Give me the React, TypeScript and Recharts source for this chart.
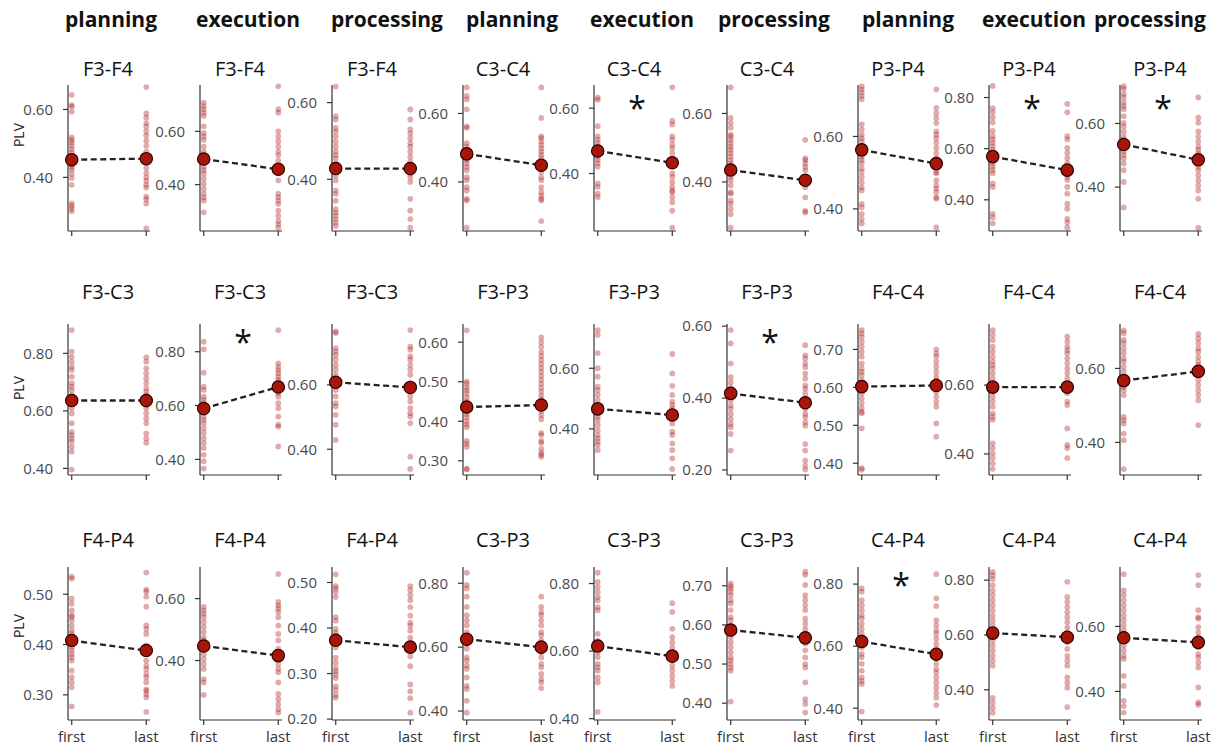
import React from 'react';
import { ScatterChart, Scatter, XAxis, YAxis } from 'recharts';

// ---- data: PLV per subject, first vs last block ----

// row 1
const f3f4PlanFirst = [0.643, 0.613, 0.608, 0.593, 0.518, 0.51, 0.503, 0.493, 0.483, 0.473, 0.463, 0.453, 0.446, 0.438, 0.43, 0.423, 0.41, 0.398, 0.378, 0.323, 0.316, 0.308, 0.3];
const f3f4PlanLast = [0.666, 0.588, 0.576, 0.56, 0.55, 0.535, 0.523, 0.508, 0.493, 0.476, 0.463, 0.443, 0.428, 0.413, 0.4, 0.39, 0.378, 0.37, 0.343, 0.336, 0.323, 0.25];
const f3f4ExecFirst = [0.708, 0.695, 0.683, 0.67, 0.658, 0.619, 0.594, 0.581, 0.568, 0.543, 0.524, 0.505, 0.49, 0.467, 0.454, 0.442, 0.423, 0.404, 0.385, 0.366, 0.352, 0.34, 0.296];
const f3f4ExecLast = [0.769, 0.683, 0.67, 0.6, 0.581, 0.562, 0.543, 0.524, 0.511, 0.49, 0.467, 0.442, 0.416, 0.366, 0.353, 0.34, 0.328, 0.302, 0.283, 0.264, 0.251, 0.239];
const f3f4ProcFirst = [0.642, 0.565, 0.556, 0.534, 0.525, 0.512, 0.498, 0.485, 0.472, 0.463, 0.454, 0.441, 0.419, 0.41, 0.397, 0.371, 0.362, 0.344, 0.322, 0.313, 0.305, 0.296, 0.287, 0.278];
const f3f4ProcLast = [0.582, 0.556, 0.53, 0.52, 0.507, 0.494, 0.485, 0.472, 0.459, 0.446, 0.435, 0.428, 0.415, 0.406, 0.393, 0.349, 0.318, 0.296, 0.274];
const c3c4PlanFirst = [0.676, 0.651, 0.641, 0.612, 0.562, 0.558, 0.513, 0.503, 0.494, 0.484, 0.474, 0.464, 0.454, 0.444, 0.434, 0.414, 0.405, 0.385, 0.375, 0.351, 0.346, 0.267];
const c3c4PlanLast = [0.676, 0.587, 0.533, 0.528, 0.518, 0.508, 0.498, 0.488, 0.479, 0.469, 0.454, 0.439, 0.429, 0.414, 0.405, 0.385, 0.37, 0.36, 0.351, 0.346, 0.286];
const c3c4ExecFirst = [0.632, 0.626, 0.545, 0.514, 0.504, 0.494, 0.483, 0.473, 0.462, 0.452, 0.442, 0.432, 0.421, 0.369, 0.359, 0.338, 0.328];
const c3c4ExecLast = [0.664, 0.561, 0.55, 0.514, 0.504, 0.488, 0.478, 0.462, 0.442, 0.4, 0.39, 0.374, 0.359, 0.348, 0.343, 0.328, 0.312, 0.286, 0.234];
const c3c4ProcFirst = [0.676, 0.587, 0.572, 0.558, 0.538, 0.533, 0.523, 0.513, 0.503, 0.494, 0.484, 0.474, 0.464, 0.454, 0.444, 0.434, 0.425, 0.415, 0.405, 0.39, 0.37, 0.366, 0.346, 0.336, 0.321, 0.306, 0.267];
const c3c4ProcLast = [0.523, 0.469, 0.464, 0.454, 0.444, 0.434, 0.414, 0.4, 0.385, 0.355, 0.316, 0.311];
const p3p4PlanFirst = [0.738, 0.73, 0.721, 0.712, 0.703, 0.633, 0.619, 0.605, 0.595, 0.586, 0.572, 0.558, 0.544, 0.535, 0.526, 0.512, 0.502, 0.488, 0.474, 0.46, 0.451, 0.414, 0.404, 0.386, 0.372, 0.36];
const p3p4PlanLast = [0.73, 0.679, 0.665, 0.651, 0.637, 0.614, 0.605, 0.595, 0.582, 0.568, 0.554, 0.54, 0.526, 0.516, 0.502, 0.498, 0.479, 0.465, 0.456, 0.446, 0.432, 0.428, 0.349];
const p3p4ExecFirst = [0.845, 0.758, 0.742, 0.722, 0.702, 0.669, 0.649, 0.636, 0.623, 0.609, 0.596, 0.583, 0.563, 0.543, 0.53, 0.517, 0.504, 0.464, 0.45, 0.345, 0.331, 0.308];
const p3p4ExecLast = [0.775, 0.742, 0.649, 0.636, 0.603, 0.583, 0.563, 0.543, 0.53, 0.517, 0.504, 0.49, 0.477, 0.45, 0.424, 0.385, 0.365, 0.325, 0.312, 0.292];
const p3p4ProcFirst = [0.717, 0.709, 0.693, 0.682, 0.666, 0.655, 0.645, 0.623, 0.602, 0.591, 0.575, 0.559, 0.549, 0.538, 0.527, 0.512, 0.501, 0.49, 0.474, 0.453, 0.416, 0.336];
const p3p4ProcLast = [0.682, 0.618, 0.602, 0.575, 0.559, 0.543, 0.527, 0.517, 0.506, 0.496, 0.485, 0.474, 0.464, 0.453, 0.437, 0.421, 0.405, 0.389, 0.363, 0.272];

// row 2
const f3c3PlanFirst = [0.881, 0.806, 0.788, 0.771, 0.753, 0.742, 0.719, 0.696, 0.684, 0.672, 0.655, 0.643, 0.626, 0.609, 0.591, 0.557, 0.527, 0.516, 0.504, 0.493, 0.475, 0.458, 0.396];
const f3c3PlanLast = [0.786, 0.771, 0.748, 0.73, 0.713, 0.696, 0.678, 0.666, 0.655, 0.643, 0.632, 0.62, 0.609, 0.591, 0.574, 0.557, 0.522, 0.504, 0.489];
const f3c3ExecFirst = [0.837, 0.809, 0.722, 0.67, 0.658, 0.633, 0.621, 0.609, 0.59, 0.572, 0.559, 0.547, 0.535, 0.516, 0.498, 0.479, 0.461, 0.442, 0.417, 0.393, 0.366];
const f3c3ExecLast = [0.88, 0.757, 0.744, 0.732, 0.72, 0.707, 0.695, 0.683, 0.67, 0.658, 0.646, 0.633, 0.609, 0.59, 0.559, 0.529, 0.522, 0.448];
const f3c3ProcFirst = [0.766, 0.761, 0.714, 0.703, 0.693, 0.678, 0.662, 0.647, 0.631, 0.616, 0.605, 0.595, 0.584, 0.564, 0.543, 0.533, 0.507, 0.476, 0.429];
const f3c3ProcLast = [0.77, 0.719, 0.709, 0.688, 0.678, 0.662, 0.647, 0.631, 0.605, 0.584, 0.564, 0.548, 0.528, 0.512, 0.502, 0.481, 0.377, 0.339];
const f3p3PlanFirst = [0.63, 0.5, 0.495, 0.485, 0.478, 0.47, 0.46, 0.45, 0.44, 0.432, 0.425, 0.418, 0.41, 0.4, 0.392, 0.385, 0.35, 0.343, 0.335, 0.28, 0.278];
const f3p3PlanLast = [0.612, 0.6, 0.588, 0.575, 0.565, 0.555, 0.545, 0.535, 0.525, 0.515, 0.505, 0.495, 0.485, 0.475, 0.465, 0.455, 0.445, 0.435, 0.425, 0.415, 0.405, 0.37, 0.365, 0.35, 0.345, 0.33, 0.32, 0.315, 0.31];
const f3p3ExecFirst = [0.726, 0.71, 0.65, 0.6, 0.572, 0.539, 0.528, 0.512, 0.495, 0.479, 0.462, 0.451, 0.44, 0.429, 0.413, 0.396, 0.38, 0.369, 0.358, 0.347, 0.33];
const f3p3ExecLast = [0.647, 0.583, 0.542, 0.512, 0.49, 0.479, 0.468, 0.457, 0.446, 0.435, 0.418, 0.391, 0.38, 0.352, 0.33, 0.303, 0.268];
const f3p3ProcFirst = [0.589, 0.552, 0.496, 0.458, 0.444, 0.43, 0.421, 0.407, 0.393, 0.379, 0.37, 0.356, 0.342, 0.328, 0.319, 0.3, 0.254];
const f3p3ProcLast = [0.547, 0.519, 0.51, 0.496, 0.486, 0.468, 0.454, 0.435, 0.426, 0.412, 0.398, 0.384, 0.37, 0.356, 0.347, 0.333, 0.323, 0.272, 0.254, 0.226, 0.212, 0.201];
const f4c4PlanFirst = [0.751, 0.742, 0.733, 0.72, 0.707, 0.694, 0.681, 0.663, 0.65, 0.641, 0.632, 0.619, 0.611, 0.597, 0.584, 0.571, 0.558, 0.545, 0.536, 0.532, 0.492, 0.387, 0.383];
const f4c4PlanLast = [0.7, 0.689, 0.681, 0.667, 0.654, 0.641, 0.628, 0.619, 0.611, 0.597, 0.588, 0.575, 0.562, 0.549, 0.505, 0.47];
const f4c4ExecFirst = [0.759, 0.745, 0.73, 0.711, 0.697, 0.682, 0.668, 0.658, 0.648, 0.634, 0.619, 0.605, 0.59, 0.581, 0.566, 0.552, 0.537, 0.518, 0.508, 0.499, 0.431, 0.417, 0.402, 0.388, 0.373, 0.357];
const f4c4ExecLast = [0.74, 0.726, 0.711, 0.701, 0.692, 0.677, 0.663, 0.648, 0.634, 0.619, 0.605, 0.59, 0.576, 0.552, 0.542, 0.474, 0.426, 0.417, 0.388];
const f4c4ProcFirst = [0.703, 0.695, 0.677, 0.668, 0.654, 0.641, 0.627, 0.618, 0.604, 0.591, 0.577, 0.564, 0.55, 0.541, 0.528, 0.469, 0.46, 0.451, 0.424, 0.406, 0.328];
const f4c4ProcLast = [0.693, 0.681, 0.668, 0.654, 0.645, 0.631, 0.618, 0.609, 0.595, 0.582, 0.568, 0.555, 0.541, 0.528, 0.514, 0.447];

// row 3
const f4p4PlanFirst = [0.535, 0.531, 0.491, 0.481, 0.468, 0.458, 0.455, 0.448, 0.438, 0.428, 0.421, 0.415, 0.408, 0.401, 0.395, 0.388, 0.381, 0.375, 0.368, 0.348, 0.335, 0.325, 0.315, 0.277];
const f4p4PlanLast = [0.543, 0.509, 0.505, 0.495, 0.475, 0.438, 0.431, 0.421, 0.398, 0.391, 0.381, 0.368, 0.358, 0.351, 0.341, 0.335, 0.325, 0.311, 0.308, 0.301, 0.295, 0.266];
const f4p4ExecFirst = [0.573, 0.562, 0.551, 0.54, 0.524, 0.508, 0.492, 0.475, 0.465, 0.454, 0.438, 0.421, 0.405, 0.389, 0.373, 0.34, 0.329, 0.289];
const f4p4ExecLast = [0.679, 0.589, 0.578, 0.568, 0.557, 0.54, 0.513, 0.486, 0.465, 0.438, 0.41, 0.389, 0.373, 0.362, 0.329, 0.292, 0.275, 0.259, 0.243, 0.232];
const f4p4ProcFirst = [0.518, 0.492, 0.487, 0.479, 0.468, 0.424, 0.416, 0.398, 0.39, 0.383, 0.372, 0.357, 0.335, 0.324, 0.312, 0.305, 0.298, 0.29, 0.272, 0.264, 0.253, 0.247];
const f4p4ProcLast = [0.492, 0.483, 0.472, 0.461, 0.446, 0.427, 0.412, 0.405, 0.394, 0.379, 0.368, 0.353, 0.338, 0.316, 0.276, 0.261, 0.246, 0.214];
const c3p3PlanFirst = [0.833, 0.795, 0.784, 0.758, 0.726, 0.7, 0.684, 0.668, 0.647, 0.626, 0.61, 0.595, 0.568, 0.558, 0.542, 0.532, 0.505, 0.479, 0.469, 0.432, 0.395];
const c3p3PlanLast = [0.758, 0.726, 0.71, 0.7, 0.684, 0.668, 0.647, 0.637, 0.621, 0.6, 0.584, 0.568, 0.548, 0.537, 0.516, 0.5, 0.49, 0.472];
const c3p3ExecFirst = [0.832, 0.805, 0.79, 0.775, 0.76, 0.75, 0.73, 0.721, 0.651, 0.631, 0.616, 0.596, 0.582, 0.562, 0.552, 0.542, 0.522, 0.507, 0.42];
const c3p3ExecLast = [0.742, 0.716, 0.666, 0.641, 0.626, 0.611, 0.596, 0.587, 0.572, 0.556, 0.542, 0.527, 0.512, 0.497];
const c3p3ProcFirst = [0.706, 0.699, 0.693, 0.685, 0.676, 0.663, 0.655, 0.638, 0.62, 0.612, 0.599, 0.582, 0.569, 0.556, 0.543, 0.53, 0.517, 0.509, 0.5, 0.491, 0.483, 0.404];
const c3p3ProcLast = [0.736, 0.728, 0.702, 0.676, 0.663, 0.65, 0.638, 0.616, 0.603, 0.59, 0.578, 0.565, 0.552, 0.535, 0.517, 0.5, 0.491, 0.453, 0.41, 0.398, 0.376];
const c4p4PlanFirst = [0.786, 0.775, 0.748, 0.732, 0.716, 0.699, 0.689, 0.672, 0.656, 0.64, 0.629, 0.618, 0.596, 0.575, 0.564, 0.543, 0.521, 0.499, 0.488, 0.478, 0.389];
const c4p4PlanLast = [0.832, 0.754, 0.729, 0.683, 0.667, 0.651, 0.64, 0.624, 0.607, 0.591, 0.575, 0.559, 0.543, 0.526, 0.515, 0.499, 0.483, 0.467, 0.45, 0.434, 0.41];
const c4p4ExecFirst = [0.83, 0.818, 0.804, 0.782, 0.763, 0.745, 0.726, 0.708, 0.69, 0.671, 0.653, 0.635, 0.616, 0.598, 0.579, 0.561, 0.543, 0.524, 0.506, 0.488, 0.371, 0.353, 0.334, 0.316];
const c4p4ExecLast = [0.794, 0.739, 0.72, 0.702, 0.683, 0.665, 0.647, 0.628, 0.61, 0.592, 0.573, 0.549, 0.524, 0.506, 0.488, 0.445, 0.426, 0.408, 0.337];
const c4p4ProcFirst = [0.761, 0.711, 0.696, 0.68, 0.665, 0.65, 0.634, 0.619, 0.603, 0.588, 0.572, 0.557, 0.541, 0.526, 0.51, 0.5, 0.448, 0.417, 0.371, 0.355, 0.335];
const c4p4ProcLast = [0.758, 0.727, 0.65, 0.629, 0.624, 0.598, 0.582, 0.567, 0.551, 0.536, 0.515, 0.505, 0.489, 0.474, 0.412, 0.366, 0.359];

// group means (first, last)
const meansRow1 = [[0.452, 0.455], [0.496, 0.458], [0.428, 0.428], [0.482, 0.449], [0.469, 0.433], [0.435, 0.405], [0.563, 0.525], [0.569, 0.516], [0.534, 0.486]];
const meansRow2 = [[0.636, 0.636], [0.589, 0.669], [0.608, 0.592], [0.436, 0.441], [0.466, 0.446], [0.413, 0.387], [0.602, 0.605], [0.594, 0.594], [0.567, 0.592]];
const meansRow3 = [[0.408, 0.388], [0.447, 0.416], [0.373, 0.358], [0.625, 0.6], [0.615, 0.585], [0.587, 0.567], [0.615, 0.574], [0.607, 0.592], [0.565, 0.551]];

const conditions = ['planning', 'execution', 'processing', 'planning', 'execution', 'processing', 'planning', 'execution', 'processing'];
const pairsRow1 = ['F3-F4', 'F3-F4', 'F3-F4', 'C3-C4', 'C3-C4', 'C3-C4', 'P3-P4', 'P3-P4', 'P3-P4'];
const pairsRow2 = ['F3-C3', 'F3-C3', 'F3-C3', 'F3-P3', 'F3-P3', 'F3-P3', 'F4-C4', 'F4-C4', 'F4-C4'];
const pairsRow3 = ['F4-P4', 'F4-P4', 'F4-P4', 'C3-P3', 'C3-P3', 'C3-P3', 'C4-P4', 'C4-P4', 'C4-P4'];

// significance markers (row, col)
const starCells = [[0, 4], [0, 7], [0, 8], [1, 1], [1, 5], [2, 6]];

// y axis limits and ticks per panel
const domainsRow1 = [[0.242, 0.672], [0.226, 0.774], [0.265, 0.646], [0.257, 0.683], [0.224, 0.671], [0.257, 0.683], [0.339, 0.742], [0.278, 0.849], [0.262, 0.721]];
const domainsRow2 = [[0.377, 0.902], [0.342, 0.903], [0.32, 0.789], [0.264, 0.646], [0.248, 0.746], [0.186, 0.606], [0.369, 0.767], [0.339, 0.777], [0.312, 0.72]];
const domainsRow3 = [[0.25, 0.554], [0.208, 0.702], [0.198, 0.534], [0.372, 0.851], [0.396, 0.849], [0.357, 0.748], [0.362, 0.855], [0.29, 0.848], [0.312, 0.783]];
const T46 = [0.4, 0.6];
const T468 = [0.4, 0.6, 0.8];
const ticksRow1 = [T46, T46, T46, T46, T46, T46, T46, T468, T46];
const ticksRow2 = [T468, T468, T46, [0.3, 0.4, 0.5, 0.6], T46, [0.2, 0.4, 0.6], [0.4, 0.5, 0.6, 0.7], T46, T46];
const ticksRow3 = [[0.3, 0.4, 0.5], T46, [0.2, 0.3, 0.4, 0.5], T468, T468, [0.4, 0.5, 0.6, 0.7], T468, T468, T46];

const pointsRows = [
  [[f3f4PlanFirst, f3f4PlanLast], [f3f4ExecFirst, f3f4ExecLast], [f3f4ProcFirst, f3f4ProcLast], [c3c4PlanFirst, c3c4PlanLast], [c3c4ExecFirst, c3c4ExecLast], [c3c4ProcFirst, c3c4ProcLast], [p3p4PlanFirst, p3p4PlanLast], [p3p4ExecFirst, p3p4ExecLast], [p3p4ProcFirst, p3p4ProcLast]],
  [[f3c3PlanFirst, f3c3PlanLast], [f3c3ExecFirst, f3c3ExecLast], [f3c3ProcFirst, f3c3ProcLast], [f3p3PlanFirst, f3p3PlanLast], [f3p3ExecFirst, f3p3ExecLast], [f3p3ProcFirst, f3p3ProcLast], [f4c4PlanFirst, f4c4PlanLast], [f4c4ExecFirst, f4c4ExecLast], [f4c4ProcFirst, f4c4ProcLast]],
  [[f4p4PlanFirst, f4p4PlanLast], [f4p4ExecFirst, f4p4ExecLast], [f4p4ProcFirst, f4p4ProcLast], [c3p3PlanFirst, c3p3PlanLast], [c3p3ExecFirst, c3p3ExecLast], [c3p3ProcFirst, c3p3ProcLast], [c4p4PlanFirst, c4p4PlanLast], [c4p4ExecFirst, c4p4ExecLast], [c4p4ProcFirst, c4p4ProcLast]],
];
const meansRows = [meansRow1, meansRow2, meansRow3];
const pairsRows = [pairsRow1, pairsRow2, pairsRow3];
const domainsRows = [domainsRow1, domainsRow2, domainsRow3];
const ticksRows = [ticksRow1, ticksRow2, ticksRow3];

// ---- layout ----
const COL_X = [68, 200, 332, 463, 594, 727, 858, 989, 1120];
const HEADER_X = [111, 248, 387, 512, 642, 774, 908, 1034, 1150];
const ROWS = [
  { top: 85, bottom: 231, titleY: 76, plvY: 135, starY: 103 },
  { top: 324, bottom: 475, titleY: 299, plvY: 388, starY: 337 },
  { top: 567, bottom: 720, titleY: 547, plvY: 626, starY: 580 },
];
const Y_W = 60;
const PLOT_W = 82;
const M_TOP = 12;
const M_RIGHT = 18;
const X_H = 40;
const FONT = '"Open Sans", "Noto Sans", sans-serif';

const smallDot = (props: any) => (
  <circle cx={props.cx} cy={props.cy} r={2.9} fill="#b22222" fillOpacity={0.38} />
);
const meanDot = (props: any) => (
  <circle cx={props.cx} cy={props.cy} r={6.2} fill="#a8160a" stroke="#2a0000" strokeWidth={1.2} />
);

function Panel({ row, col }: { row: number; col: number }) {
  const r = ROWS[row];
  const plotH = r.bottom - r.top;
  const [firstVals, lastVals] = pointsRows[row][col];
  const mean = meansRows[row][col];
  const firstPts = firstVals.map((y) => ({ x: 0, y }));
  const lastPts = lastVals.map((y) => ({ x: 1, y }));
  const meanPts = [{ x: 0, y: mean[0] }, { x: 1, y: mean[1] }];
  const showX = row === 2;
  return (
    <div style={{ position: 'absolute', left: COL_X[col] - Y_W, top: r.top - M_TOP }}>
      <ScatterChart width={Y_W + PLOT_W + M_RIGHT} height={plotH + M_TOP + X_H} margin={{ top: M_TOP, right: M_RIGHT, bottom: 0, left: 0 }}>
        <XAxis
          type="number"
          dataKey="x"
          domain={[-0.05, 1.05]}
          ticks={[0, 1]}
          interval={0}
          height={X_H}
          tickFormatter={(v: number) => (showX ? (v === 0 ? 'first' : 'last') : '')}
          axisLine={{ stroke: '#333', strokeWidth: 1.2 }}
          tickLine={{ stroke: '#333', strokeWidth: 1.2 }}
          tickSize={5}
          tickMargin={6}
          tick={{ fontSize: 15, fill: '#333', fontFamily: FONT }}
        />
        <YAxis
          type="number"
          dataKey="y"
          domain={domainsRows[row][col]}
          ticks={ticksRows[row][col]}
          interval={0}
          width={Y_W}
          tickFormatter={(v: number) => v.toFixed(2)}
          axisLine={{ stroke: '#333', strokeWidth: 1.2 }}
          tickLine={{ stroke: '#333', strokeWidth: 1.2 }}
          tickSize={5}
          tickMargin={10}
          tick={{ fontSize: 15, fill: '#4a4a4a', fontFamily: FONT }}
        />
        <Scatter data={firstPts} shape={smallDot} isAnimationActive={false} />
        <Scatter data={lastPts} shape={smallDot} isAnimationActive={false} />
        <Scatter
          data={meanPts}
          shape={meanDot}
          line={{ stroke: '#222', strokeWidth: 2.3, strokeDasharray: '6 3.5' }}
          isAnimationActive={false}
        />
      </ScatterChart>
    </div>
  );
}

export default function App() {
  return (
    <div style={{ position: 'absolute', left: 0, top: 0, width: 1212, height: 746, background: '#fff', fontFamily: FONT }}>
      {[0, 1, 2].map((row) => COL_X.map((_, col) => <Panel key={`${row}-${col}`} row={row} col={col} />))}
      <svg width={1212} height={746} style={{ position: 'absolute', left: 0, top: 0, pointerEvents: 'none' }}>
        {conditions.map((c, i) => (
          <text key={`h${i}`} x={HEADER_X[i]} y={27} textAnchor="middle" fontSize={21} fontWeight="bold" fill="#111" fontFamily={FONT}>
            {c}
          </text>
        ))}
        {ROWS.map((r, row) =>
          pairsRows[row].map((p, col) => (
            <text key={`t${row}-${col}`} x={COL_X[col] + 40} y={r.titleY} textAnchor="middle" fontSize={20} fill="#111" fontFamily={FONT}>
              {p}
            </text>
          ))
        )}
        {ROWS.map((r, row) => (
          <text key={`plv${row}`} x={18} y={r.plvY} transform={`rotate(-90, 18, ${r.plvY})`} textAnchor="middle" dominantBaseline="central" fontSize={14} fill="#222" fontFamily={FONT}>
            PLV
          </text>
        ))}
        {starCells.map(([row, col]) => (
          <text key={`s${row}-${col}`} x={COL_X[col] + 43} y={ROWS[row].starY + 17} textAnchor="middle" fontSize={32} fill="#111" fontFamily={FONT}>
            *
          </text>
        ))}
      </svg>
    </div>
  );
}
